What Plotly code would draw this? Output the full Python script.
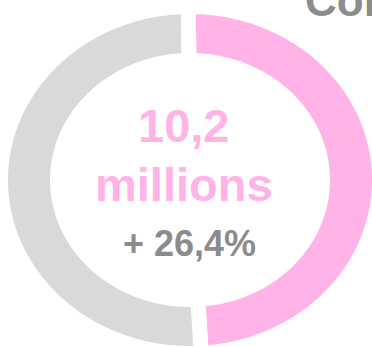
import numpy as np
import plotly.graph_objects as go

# ---- data ----
labels = ["Part", "Reste"]
values = [49.2, 50.8]
colors = ["#FFB3E6", "#D9D9D9"]
main_value = "10,2"
main_unit = "millions"
growth = "+ 26,4%"
title_text = "Consommateurs"

# ---- geometry (pixel-like axes) ----
W, H = 372, 347
cx, cy = 190, 180
gap = 15
rx_out, ry_out = 182 + gap / 2, 166 + gap / 2
rx_in, ry_in = 140 - gap / 2, 127 - gap / 2
start_deg = -0.5

fig = go.Figure()
total = sum(values)
ang = start_deg
for lab, v, c in zip(labels, values, colors):
    a0 = np.radians(ang)
    a1 = np.radians(ang + 360 * v / total)
    t = np.linspace(a0, a1, 240)
    xo = cx + rx_out * np.sin(t)
    yo = cy - ry_out * np.cos(t)
    xi = cx + rx_in * np.sin(t[::-1])
    yi = cy - ry_in * np.cos(t[::-1])
    xs = np.concatenate([xo, xi, xo[:1]])
    ys = np.concatenate([yo, yi, yo[:1]])
    fig.add_trace(go.Scatter(x=xs, y=ys, mode="lines", fill="toself",
                             fillcolor=c,
                             line=dict(color="white", width=gap, simplify=False),
                             name=lab, hoverinfo="skip", showlegend=False))
    ang += 360 * v / total

font_family = "Liberation Sans, Arial, sans-serif"
fig.add_annotation(x=183, y=125, text=main_value, showarrow=False,
                   xanchor="center", yanchor="middle",
                   font=dict(family=font_family, size=47, color=colors[0], weight="bold"))
fig.add_annotation(x=183.5, y=184.5, text=main_unit, showarrow=False,
                   xanchor="center", yanchor="middle",
                   font=dict(family=font_family, size=47, color=colors[0], weight="bold"))
fig.add_annotation(x=189, y=243, text=growth, showarrow=False,
                   xanchor="center", yanchor="middle",
                   font=dict(family=font_family, size=36, color="#8C8C8C", weight="bold"))
fig.add_annotation(x=303, y=0, text=title_text, showarrow=False,
                   xanchor="left", yanchor="middle",
                   font=dict(family=font_family, size=44, color="#8C8C8C", weight="bold"))

fig.update_layout(width=W, height=H,
                  margin=dict(l=0, r=0, t=0, b=0, pad=0, autoexpand=False),
                  paper_bgcolor="white", plot_bgcolor="white",
                  xaxis=dict(range=[0, W], visible=False, fixedrange=True),
                  yaxis=dict(range=[H, 0], visible=False, fixedrange=True),
                  showlegend=False)
fig.write_html("out.html", config={"displayModeBar": False},
               post_script="document.body.style.margin='0';document.body.style.overflow='hidden';")
